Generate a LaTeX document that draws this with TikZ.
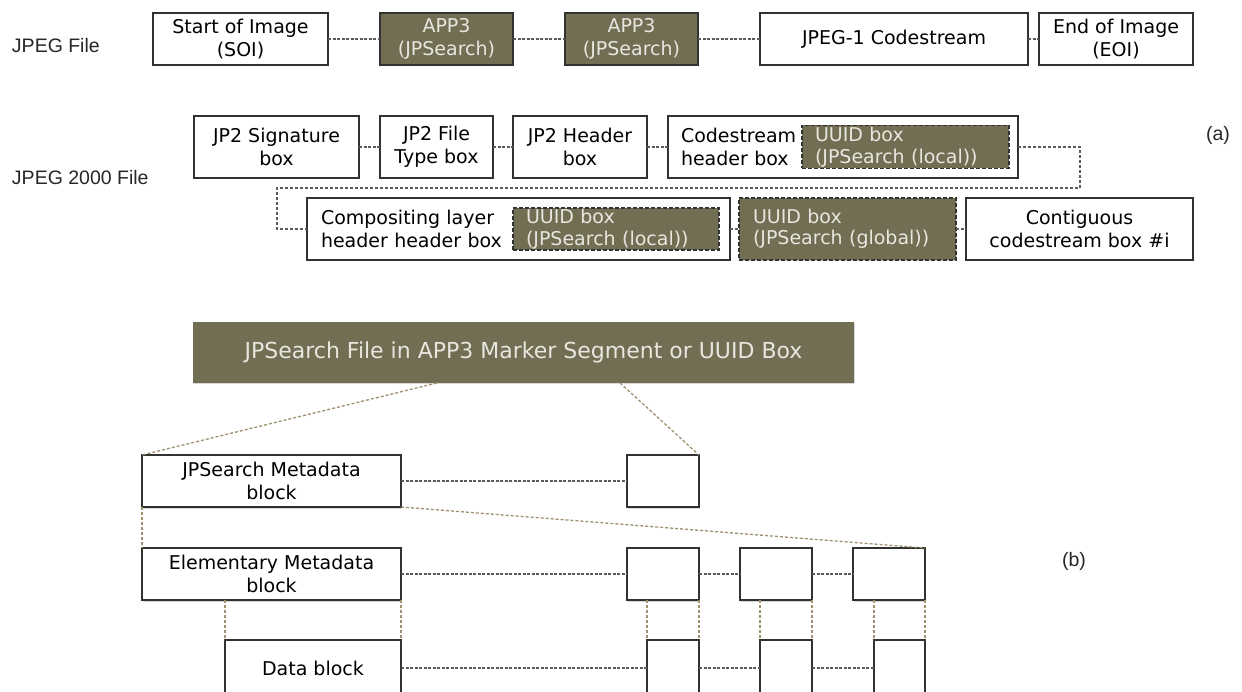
\documentclass[tikz,border=0pt]{standalone}
\usepackage{fontspec}
\setmainfont{DejaVu Sans}
\newfontfamily\labfont{Liberation Sans}
\usetikzlibrary{shadows}
\definecolor{olivefill}{RGB}{113,110,84}
\definecolor{olivetext}{RGB}{232,230,222}
\definecolor{tanline}{RGB}{160,145,112}
\definecolor{edgecol}{RGB}{50,50,50}
\definecolor{conncol}{RGB}{90,90,90}
\begin{document}
\begin{tikzpicture}[x=1pt,y=-1pt,
  every node/.style={inner sep=0pt, outer sep=0pt, font=\fontsize{19}{23}\selectfont},
  wbox/.style={draw=edgecol, line width=1.6pt, fill=white, align=center,
    drop shadow={shadow xshift=1pt, shadow yshift=-1.5pt, opacity=0.3}},
  obox/.style={wbox, fill=olivefill, text=olivetext},
  lbox/.style={wbox, align=left, inner xsep=13pt},
  ibox/.style={draw=edgecol, line width=1.8pt, dash pattern=on 4pt off 2pt,
    fill=olivefill, text=olivetext, align=left, inner xsep=13pt,
    font=\fontsize{19}{21.5}\selectfont},
  gbox/.style={ibox, drop shadow={shadow xshift=1pt, shadow yshift=-1.5pt, opacity=0.3}},
  conn/.style={draw=conncol, line width=1.8pt, dash pattern=on 3pt off 1.5pt},
  loopline/.style={draw=conncol, line width=1.2pt, dash pattern=on 3pt off 2pt},
  tanl/.style={draw=tanline, line width=1.3pt, dash pattern=on 3pt off 2pt},
  lab/.style={font=\labfont\fontsize{19.5}{22}\selectfont, anchor=west, text=black!85}
]
\useasboundingbox (0,0) rectangle (1242,692);
\fill[white] (0,0) rectangle (1242,692);

% ---- JPEG file row ----
\node[lab] (ljpeg) at (12,46) {JPEG File};
\node[wbox, minimum width=175pt, minimum height=52pt] (soi) at (240.5,39) {Start of Image\\(SOI)};
\node[obox, minimum width=133pt, minimum height=52pt] (appa) at (446.5,39) {APP3\\(JPSearch)};
\node[obox, minimum width=133pt, minimum height=52pt] (appb) at (631.5,39) {APP3\\(JPSearch)};
\node[wbox, minimum width=268pt, minimum height=52pt] (cs) at (894,39) {JPEG-1 Codestream};
\node[wbox, minimum width=154pt, minimum height=52pt] (eoi) at (1116,39) {End of Image\\(EOI)};
\draw[conn] (soi.east) -- (appa.west);
\draw[conn] (appa.east) -- (appb.west);
\draw[conn] (appb.east) -- (cs.west);
\draw[conn] (cs.east) -- (eoi.west);

% ---- JPEG 2000 file ----
\node[lab] (ljp2) at (12,178) {JPEG 2000 File};
\node[lab] (la) at (1206,135) {(a)};
\node[wbox, minimum width=165pt, minimum height=62pt] (sig) at (276.5,147) {JP2 Signature\\box};
\node[wbox, minimum width=113pt, minimum height=62pt] (ftyp) at (436.5,147) {JP2 File\\Type box};
\node[wbox, minimum width=134pt, minimum height=62pt] (hdr) at (580,147) {JP2 Header\\box};
\node[lbox, text width=324pt, minimum height=62pt] (csh) at (843,147) {Codestream\\header box};
\node[ibox, text width=181pt, minimum height=43pt] (uuida) at (905.5,147) {UUID box\\(JPSearch (local))};

\node[lbox, inner xsep=14pt, text width=395pt, minimum height=62pt] (comp) at (518.5,229) {Compositing layer\\header header box};
\node[ibox, text width=180pt, minimum height=42pt] (uuidb) at (616,229) {UUID box\\(JPSearch (local))};
\node[gbox, inner xsep=14pt, text width=189pt, minimum height=62pt] (uuidg) at (847.5,229) {UUID box\\(JPSearch (global))};
\node[wbox, minimum width=227pt, minimum height=62pt] (contig) at (1079.5,229) {Contiguous\\codestream box \#i};

\draw[conn] (sig.east) -- (ftyp.west);
\draw[conn] (ftyp.east) -- (hdr.west);
\draw[conn] (hdr.east) -- (csh.west);
\coordinate (lr) at (1080,188);
\coordinate (ll) at (277,188);
\draw[loopline] (csh.east) -| (lr) -- (ll) |- (comp.west);
\draw[conn] (comp.east) -- (uuidg.west);
\draw[conn] (uuidg.east) -- (contig.west);

% ---- JPSearch file structure ----
\node[obox, draw=none, font=\fontsize{22}{26}\selectfont, minimum width=661pt, minimum height=61pt] (bar) at (523.5,352.5) {JPSearch File in APP3 Marker Segment or UUID Box};
\coordinate (bl) at (437,383);
\coordinate (br) at (620,383);
\node[lab] (lb) at (1062,561) {(b)};

\node[wbox, minimum width=259pt, minimum height=52pt] (jpm) at (271.5,481) {JPSearch Metadata\\block};
\node[wbox, minimum width=72pt, minimum height=52pt] (s0) at (663,481) {};
\node[wbox, minimum width=259pt, minimum height=52pt] (elem) at (271.5,574) {Elementary Metadata\\block};
\node[wbox, minimum width=72pt, minimum height=52pt] (ea) at (663,574) {};
\node[wbox, minimum width=72pt, minimum height=52pt] (eb) at (776,574) {};
\node[wbox, minimum width=72pt, minimum height=52pt] (ec) at (889,574) {};
\node[wbox, minimum width=176pt, minimum height=56pt] (data) at (313,668) {Data block};
\node[wbox, minimum width=52pt, minimum height=56pt] (da) at (673,668) {};
\node[wbox, minimum width=52pt, minimum height=56pt] (db) at (786,668) {};
\node[wbox, minimum width=51pt, minimum height=56pt] (dc) at (899.5,668) {};

\draw[tanl] (bl) -- (jpm.north west);
\draw[tanl] (br) -- (s0.north east);
\draw[tanl] (jpm.south west) -- (elem.north west);
\draw[tanl] (jpm.south east) -- (ec.north east);
\draw[tanl] (data.north west |- elem.south) -- (data.north west);
\draw[tanl] (elem.south east) -- (data.north east);
\draw[tanl] (da.north west |- ea.south) -- (da.north west);
\draw[tanl] (ea.south east) -- (da.north east);
\draw[tanl] (db.north west |- eb.south) -- (db.north west);
\draw[tanl] (eb.south east) -- (db.north east);
\draw[tanl] (dc.north west |- ec.south) -- (dc.north west);
\draw[tanl] (ec.south east) -- (dc.north east);

\draw[conn] (jpm.east) -- (s0.west);
\draw[conn] (elem.east) -- (ea.west);
\draw[conn] (ea.east) -- (eb.west);
\draw[conn] (eb.east) -- (ec.west);
\draw[conn] (data.east) -- (da.west);
\draw[conn] (da.east) -- (db.west);
\draw[conn] (db.east) -- (dc.west);
\end{tikzpicture}
\end{document}
